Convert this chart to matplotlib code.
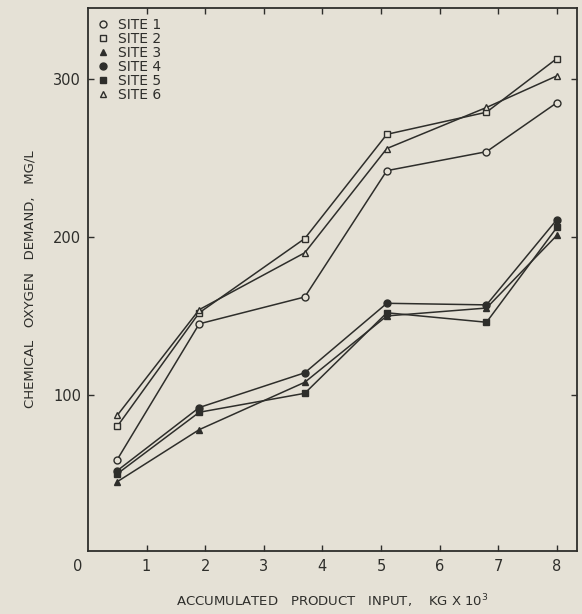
"""
COD vs accumulated product input, six sites
"""
import matplotlib.pyplot as plt
from matplotlib.transforms import blended_transform_factory

plt.rcParams['font.family'] = ['DejaVu Sans']

# data
x_input = [0.5, 1.9, 3.7, 5.1, 6.8, 8.0]
site1 = [59, 145, 162, 242, 254, 285]
site2 = [80, 152, 199, 265, 279, 313]
site3 = [45, 78, 108, 150, 155, 201]
site4 = [52, 92, 114, 158, 157, 211]
site5 = [50, 89, 101, 152, 146, 206]
site6 = [87, 154, 190, 256, 282, 302]
site_names = ["SITE 1", "SITE 2", "SITE 3", "SITE 4", "SITE 5", "SITE 6"]
x_ticks = [1, 2, 3, 4, 5, 6, 7, 8]
y_ticks = [100, 200, 300]

BG = '#e5e1d6'
INK = '#2e2e2b'

fig = plt.figure(figsize=(5.82, 6.14), dpi=100, facecolor=BG)
ax = fig.add_axes([0.151, 0.103, 0.840, 0.884], facecolor=BG)

series = [site1, site2, site3, site4, site5, site6]
markers = ['o', 's', '^', 'o', 's', '^']
filled = [False, False, True, True, True, False]
for vals, mk, fill, name in zip(series, markers, filled, site_names):
    ax.plot(x_input, vals, color=INK, lw=1.1, marker=mk, ms=5,
            mfc=INK if fill else BG, mec=INK, mew=1.0, label=name)

ax.set_xlim(0, 8.34)
ax.set_ylim(1.3, 345)
ax.set_xticks(x_ticks)
ax.set_yticks(y_ticks)
ax.tick_params(direction='in', length=4, width=1, colors=INK,
               top=True, right=True, labelsize=10.5)
ax.tick_params(axis='x', pad=6)
ax.tick_params(axis='y', pad=5)
for s in ax.spines.values():
    s.set_color(INK)
    s.set_linewidth(1.3)

# the lone 0 at the corner
ax.annotate("0", xy=(0, 0), xycoords=blended_transform_factory(ax.transData, ax.transAxes),
            xytext=(-7, -11), textcoords='offset points', ha='center', va='center',
            fontsize=10.5, color=INK)

ax.set_xlabel("ACCUMULATED   PRODUCT   INPUT,    KG X 10$^{3}$", fontsize=9.5,
              color=INK, labelpad=13)
ax.set_ylabel("CHEMICAL   OXYGEN   DEMAND,   MG/L", fontsize=9.5,
              color=INK, labelpad=12)

leg = ax.legend(loc='upper left', frameon=False, fontsize=10, handlelength=0.8,
                handletextpad=0.7, labelspacing=0.0, borderaxespad=0.3,
                labelcolor=INK)
for h in leg.legend_handles:
    h.set_linestyle('none')

fig.savefig("out.png", dpi=100, facecolor=BG)
